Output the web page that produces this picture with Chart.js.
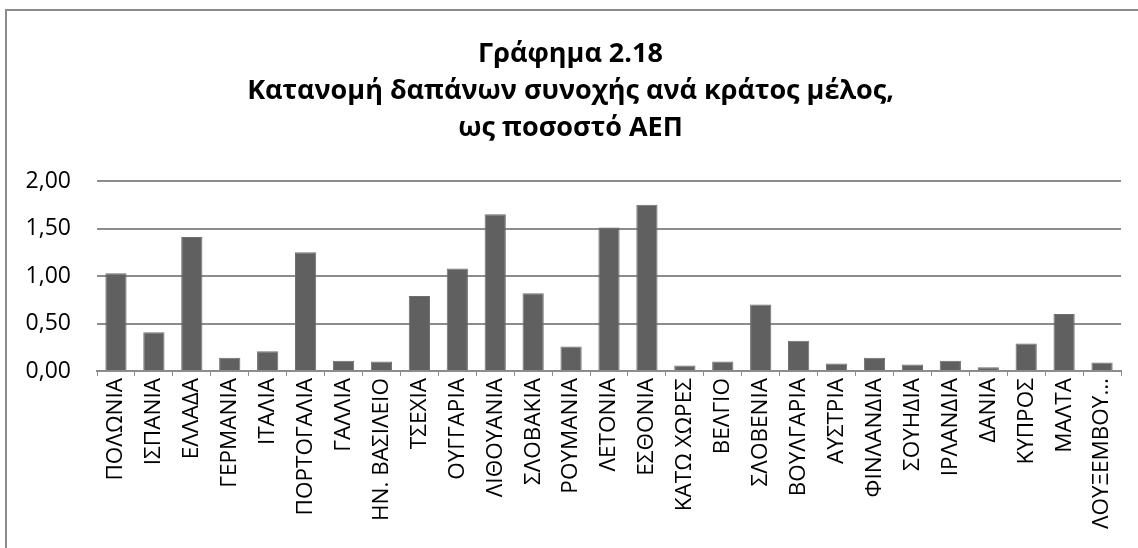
<!DOCTYPE html>
<html>
<head>
<meta charset="utf-8">
<script src="https://cdn.jsdelivr.net/npm/chart.js@4"></script>
<style>
  body { margin: 0; background: #fff; }
  #wrap { position: relative; width: 1138px; height: 548px; overflow: hidden; }
  #frame {
    position: absolute; left: 5px; top: 9px; width: 1150px; height: 560px;
    border: 2px solid #8c8c8c; pointer-events: none;
  }
  canvas { position: absolute; left: 0; top: 0; }
</style>
</head>
<body>
<div id="wrap">
  <canvas id="barChart" width="1138" height="548"></canvas>
  <div id="frame"></div>
</div>
<script>
// κατηγορίες (κράτη μέλη)
const countries = [
  'ΠΟΛΩΝΙΑ', 'ΙΣΠΑΝΙΑ', 'ΕΛΛΑΔΑ', 'ΓΕΡΜΑΝΙΑ', 'ΙΤΑΛΙΑ', 'ΠΟΡΤΟΓΑΛΙΑ',
  'ΓΑΛΛΙΑ', 'ΗΝ. ΒΑΣΙΛΕΙΟ', 'ΤΣΕΧΙΑ', 'ΟΥΓΓΑΡΙΑ', 'ΛΙΘΟΥΑΝΙΑ', 'ΣΛΟΒΑΚΙΑ',
  'ΡΟΥΜΑΝΙΑ', 'ΛΕΤΟΝΙΑ', 'ΕΣΘΟΝΙΑ', 'ΚΑΤΩ ΧΩΡΕΣ', 'ΒΕΛΓΙΟ', 'ΣΛΟΒΕΝΙΑ',
  'ΒΟΥΛΓΑΡΙΑ', 'ΑΥΣΤΡΙΑ', 'ΦΙΝΛΑΝΔΙΑ', 'ΣΟΥΗΔΙΑ', 'ΙΡΛΑΝΔΙΑ', 'ΔΑΝΙΑ',
  'ΚΥΠΡΟΣ', 'ΜΑΛΤΑ', 'ΛΟΥΞΕΜΒΟΥΡΓΟ',
];

// δαπάνες συνοχής ως % ΑΕΠ
const cohesionShare = [
  1.03, 0.41, 1.41, 0.14, 0.21, 1.25,
  0.11, 0.10, 0.79, 1.08, 1.65, 0.82,
  0.26, 1.51, 1.75, 0.06, 0.10, 0.70,
  0.32, 0.08, 0.14, 0.07, 0.11, 0.04,
  0.29, 0.60, 0.09,
];

// άξονας y
const yTicks = [0, 0.5, 1, 1.5, 2];

const titleLines = [
  'Γράφημα 2.18',
  'Κατανομή δαπάνων συνοχής ανά κράτος μέλος,',
  'ως ποσοστό ΑΕΠ',
];

const gridGray = '#8c8c8c';

new Chart(document.getElementById('barChart'), {
  type: 'bar',
  data: {
    labels: countries,
    datasets: [
      {
        data: cohesionShare,
        backgroundColor: '#606060',
        borderColor: '#6e6e6e',
        borderWidth: 1,
        barPercentage: 0.56,
        categoryPercentage: 1,
      },
    ],
  },
  options: {
    responsive: false,
    animation: false,
    layout: {
      padding: { left: 20, right: 17, top: 0, bottom: 17 },
    },
    plugins: {
      legend: { display: false },
      tooltip: { enabled: false },
      title: {
        display: true,
        text: titleLines,
        color: '#000',
        font: { family: 'Open Sans', weight: 'bold', size: 27, lineHeight: 1.37 },
        padding: { top: 36, bottom: 34 },
      },
    },
    scales: {
      x: {
        grid: { drawOnChartArea: false, color: gridGray, tickLength: 5 },
        border: { color: gridGray, width: 2 },
        ticks: {
          color: '#000',
          font: { family: 'Open Sans', size: 22.5 },
          minRotation: 90,
          maxRotation: 90,
          autoSkip: false,
          padding: 2,
          callback: function (value) {
            // μακρύ όνομα κόβεται όπως στο πρωτότυπο
            const name = this.getLabelForValue(value);
            return name.length > 11 && name.indexOf(' ') < 0 ? name.slice(0, 9) + '…' : name;
          },
        },
      },
      y: {
        min: yTicks[0],
        max: yTicks[yTicks.length - 1],
        afterBuildTicks: (axis) => {
          axis.ticks = yTicks.map((v) => ({ value: v }));
        },
        afterFit: (axis) => {
          axis.width = 77;
        },
        grid: { color: gridGray, lineWidth: 2, drawTicks: false },
        border: { display: false },
        ticks: {
          color: '#000',
          font: { family: 'Open Sans', size: 23 },
          padding: 26,
          callback: (v) => v.toFixed(2).replace('.', ','),
        },
      },
    },
  },
});
</script>
</body>
</html>
